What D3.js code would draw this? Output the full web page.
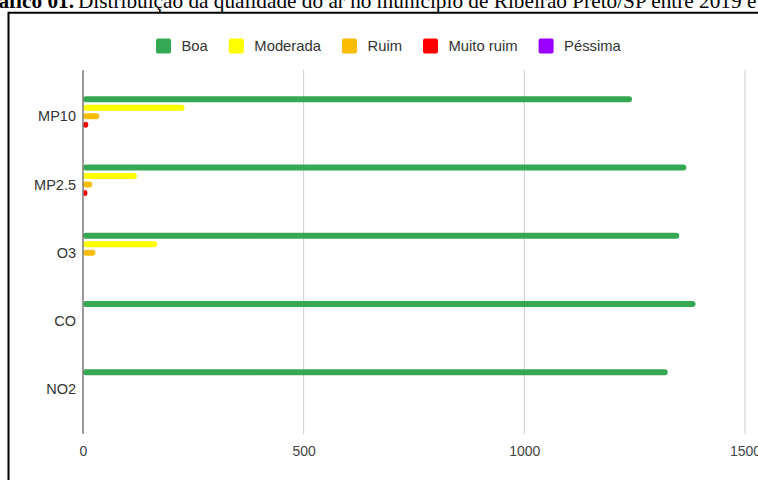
<!DOCTYPE html>
<html>
<head>
<meta charset="utf-8">
<script src="https://cdn.jsdelivr.net/npm/d3@7"></script>
<style>
  html, body { margin: 0; padding: 0; background: #fff; }
  svg { display: block; }
</style>
</head>
<body>
<svg id="chart" width="758" height="480"></svg>
<script>
// ---- data ----
const categories = ["MP10", "MP2.5", "O3", "CO", "NO2"];
const seriesNames = ["Boa", "Moderada", "Ruim", "Muito ruim", "Péssima"];
const seriesColors = ["#34a853", "#ffff00", "#fbbc04", "#ff0000", "#9900ff"];
const boa       = [1244, 1367, 1351, 1388, 1325];
const moderada  = [230, 122, 168, 0, 0];
const ruim      = [37, 21, 28, 0, 0];
const muitoRuim = [12, 10, 0, 0, 0];
const pessima   = [0, 0, 0, 0, 0];
const xTicks = [0, 500, 1000, 1500];
const titleBold = "Gráfico 01.";
const titleRest = "Distribuição da qualidade do ar no município de Ribeirão Preto/SP entre 2019 e";
const titleTail = " 2022";

const seriesValues = [boa, moderada, ruim, muitoRuim, pessima];
const rows = categories.map((c, i) => ({
  cat: c,
  vals: seriesNames.map((s, j) => ({ s, v: seriesValues[j][i], color: seriesColors[j] }))
}));

const svg = d3.select("#chart");
const font = "'Liberation Sans', Arial, sans-serif";
const serif = "'Liberation Serif', 'Times New Roman', serif";

// ---- title (clipped at top) ----
// fit the font size so that the visible part spans the same width as the reference
const probe = svg.append("text").attr("font-family", serif).attr("font-size", 20).text(titleRest);
const probeLen = probe.node().getComputedTextLength();
probe.remove();
const titleSize = 20 * (757 - 78) / probeLen;

const tBold = svg.append("text")
  .attr("y", 7.5)
  .attr("font-family", serif)
  .attr("font-size", titleSize)
  .attr("font-weight", "bold")
  .attr("fill", "#000")
  .text(titleBold);
const bl = tBold.node().getComputedTextLength();
tBold.attr("x", 74 - bl);
svg.append("text")
  .attr("x", 78)
  .attr("y", 7.5)
  .attr("font-family", serif)
  .attr("font-size", titleSize)
  .attr("fill", "#000")
  .text(titleRest + titleTail);

// ---- frame ----
svg.append("path")
  .attr("d", "M8.5,480 L8.5,12.75 L758,12.75")
  .attr("fill", "none")
  .attr("stroke", "#000")
  .attr("stroke-width", 2);

// ---- scales ----
const x = d3.scaleLinear().domain([0, 1500]).range([83, 745]);
const y0 = d3.scaleBand().domain(categories).range([82, 423.25]).padding(0);
const bw = y0.bandwidth();
const y1 = d3.scaleBand().domain(seriesNames).range([bw / 2 - 21.25, bw / 2 + 21.25]).padding(0);
const barH = 6;

const gridTop = 70, gridBottom = 434;

// gridlines
svg.append("g").selectAll("line")
  .data(xTicks.filter(t => t !== 0))
  .join("line")
  .attr("x1", d => x(d)).attr("x2", d => x(d))
  .attr("y1", gridTop).attr("y2", gridBottom)
  .attr("stroke", "#cccccc").attr("stroke-width", 1);

// x tick labels via axis
const xAxis = d3.axisBottom(x).tickValues(xTicks).tickSize(0).tickPadding(0).tickFormat(d3.format("d"));
const gx = svg.append("g").attr("transform", `translate(0,${gridBottom})`).call(xAxis);
gx.select(".domain").remove();
gx.selectAll("text")
  .attr("dy", null)
  .attr("y", 22)
  .attr("font-family", font)
  .attr("font-size", 14)
  .attr("fill", "#444");

// bars
const groups = svg.append("g").selectAll("g")
  .data(rows)
  .join("g")
  .attr("transform", d => `translate(0,${y0(d.cat)})`);

groups.selectAll("rect")
  .data(d => d.vals.filter(v => v.v > 0))
  .join("rect")
  .attr("x", x(0))
  .attr("y", d => y1(d.s) + (y1.bandwidth() - barH) / 2)
  .attr("width", d => x(d.v) - x(0))
  .attr("height", barH)
  .attr("rx", 3)
  .attr("fill", d => d.color);

// zero baseline
svg.append("line")
  .attr("x1", x(0)).attr("x2", x(0))
  .attr("y1", gridTop).attr("y2", gridBottom)
  .attr("stroke", "#7a7a7a").attr("stroke-width", 1.5);

// category labels via axis
const yAxis = d3.axisLeft(y0).tickSize(0).tickPadding(0);
const gy = svg.append("g").attr("transform", `translate(76,0)`).call(yAxis);
gy.select(".domain").remove();
gy.selectAll("text")
  .attr("x", 0)
  .attr("dy", "0.36em")
  .attr("font-family", font)
  .attr("font-size", 14.5)
  .attr("fill", "#333");

// legend
const legend = svg.append("g");
let lx = 156;
seriesNames.forEach((s, i) => {
  legend.append("rect")
    .attr("x", lx).attr("y", 38.5)
    .attr("width", 15).attr("height", 15)
    .attr("rx", 2)
    .attr("fill", seriesColors[i]);
  const t = legend.append("text")
    .attr("x", lx + 25.5).attr("y", 51)
    .attr("font-family", font)
    .attr("font-size", 14.8)
    .attr("fill", "#333")
    .text(s);
  lx += 25.5 + t.node().getComputedTextLength() + 21;
});
</script>
</body>
</html>
